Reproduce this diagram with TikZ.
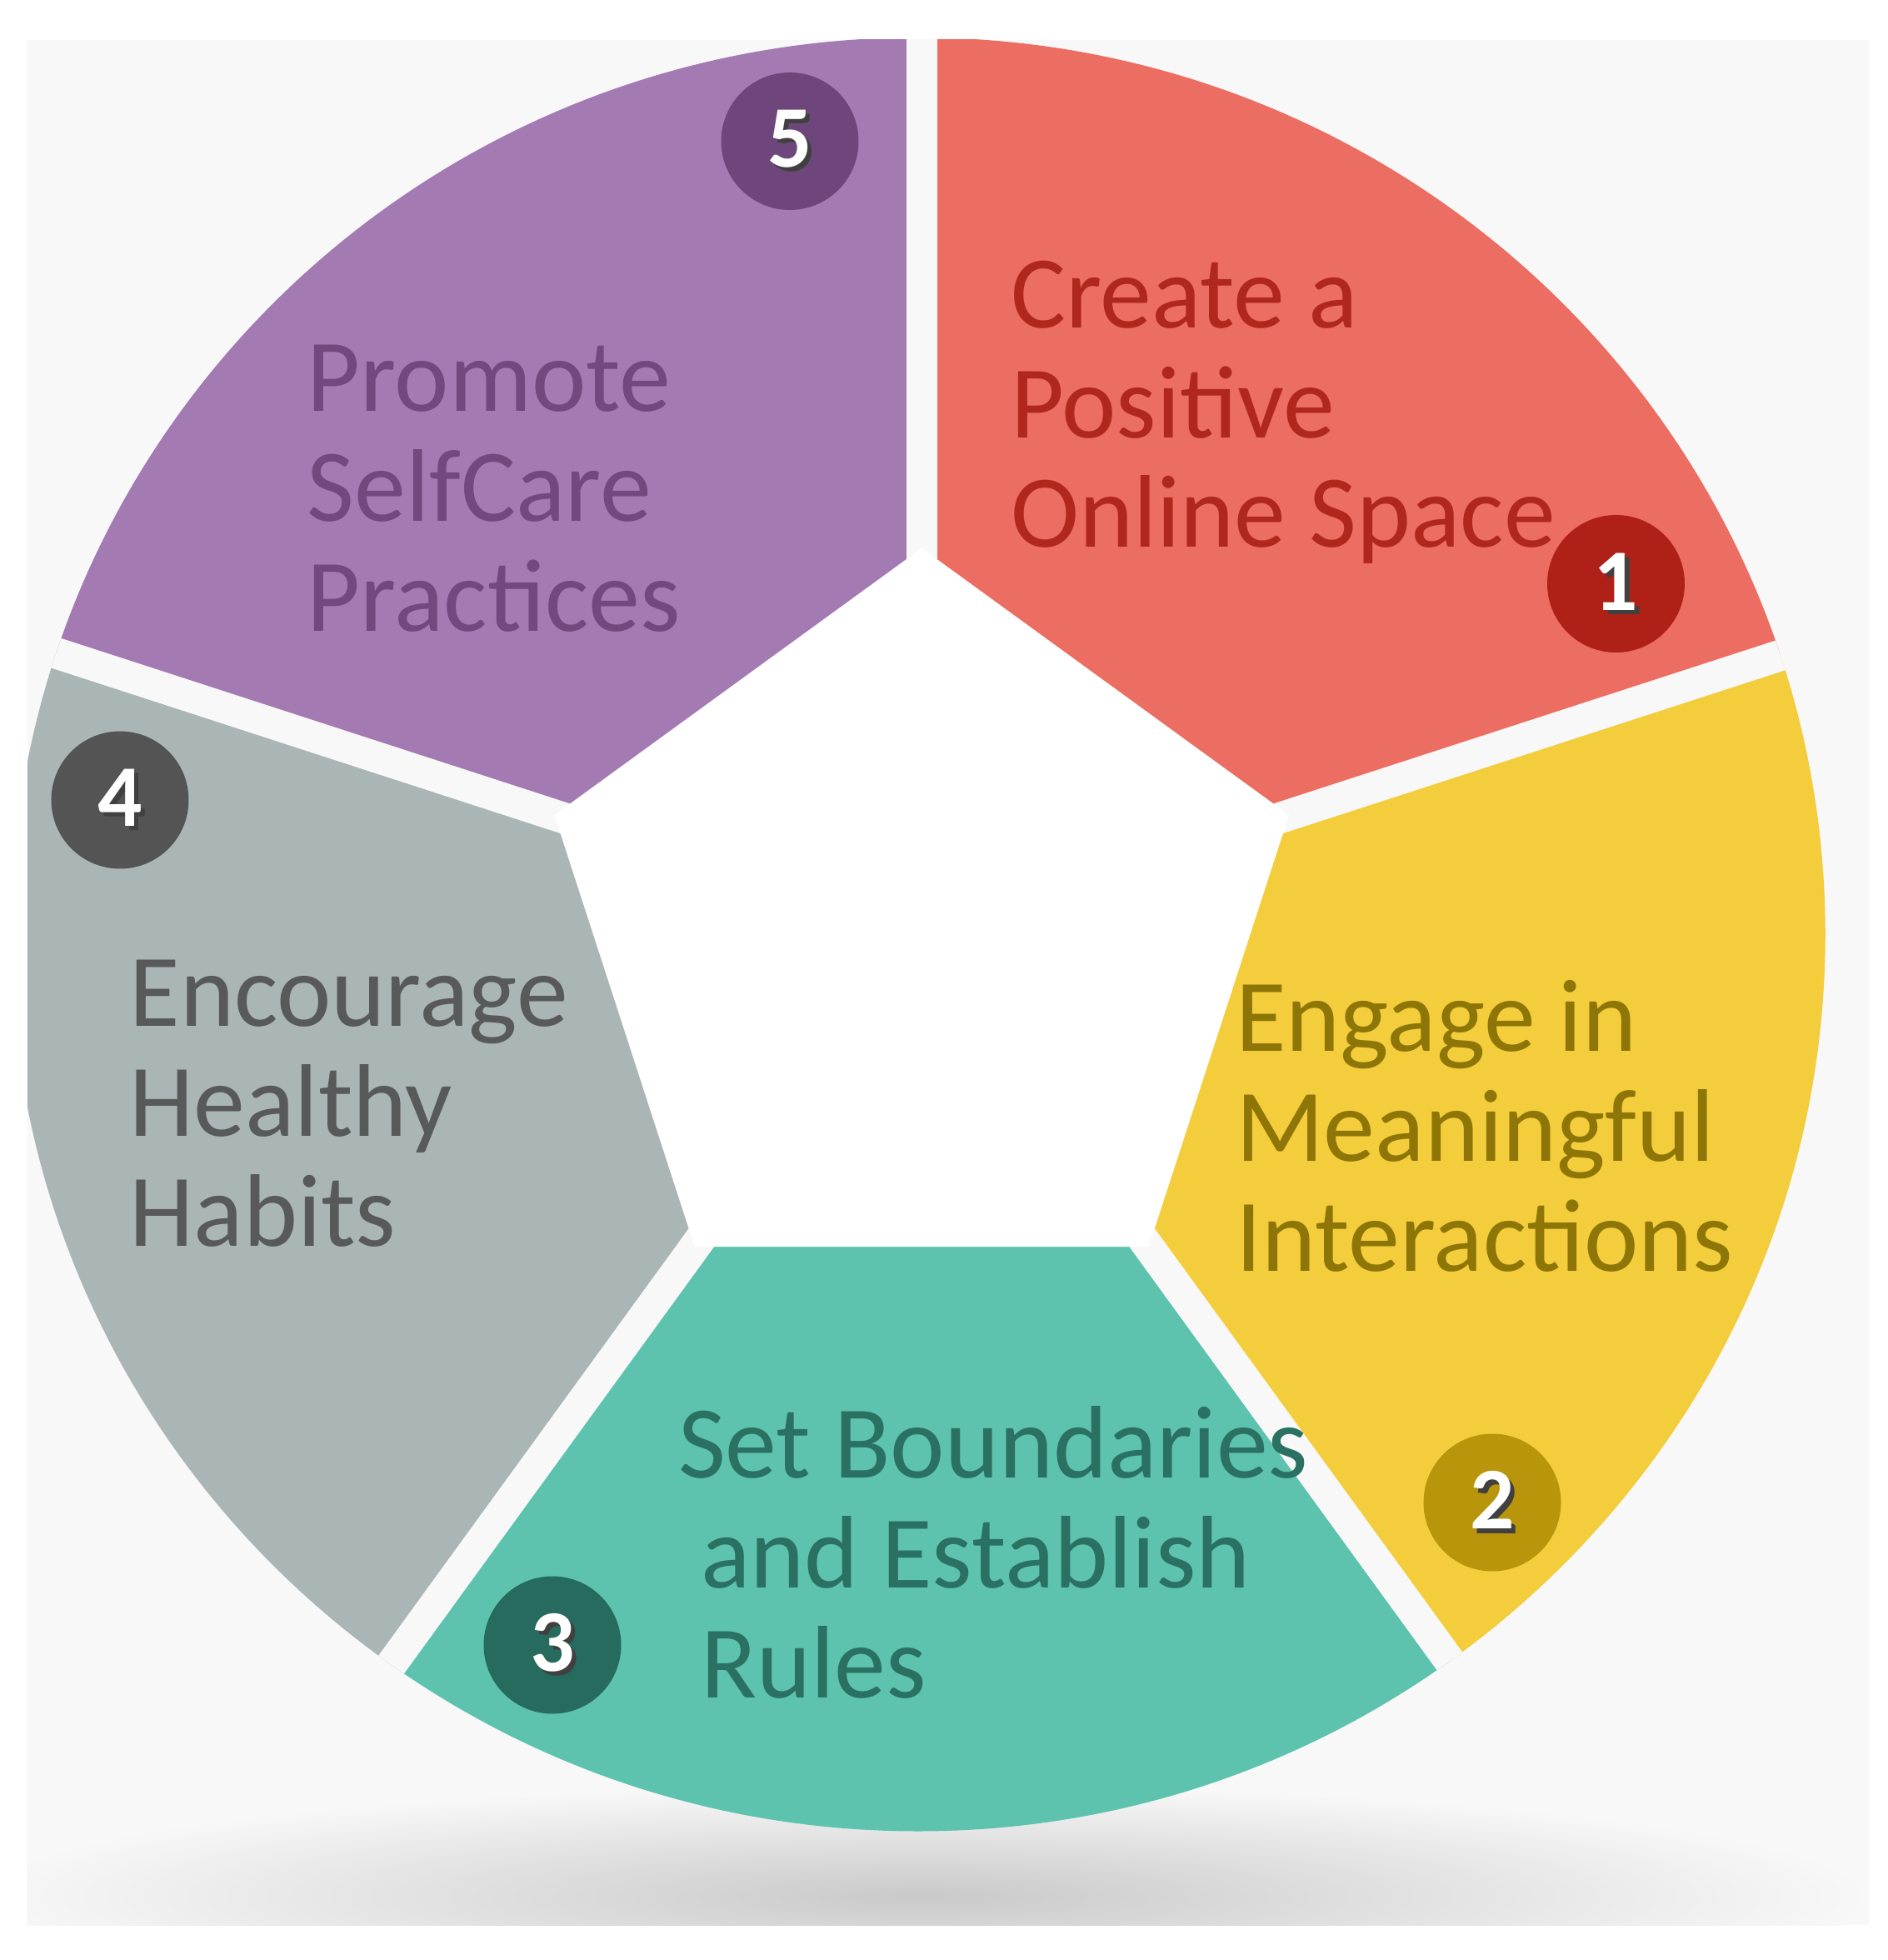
\documentclass[tikz,border=0pt]{standalone}
\usepackage{fontspec}
\setmainfont{Carlito}
\usepackage{tikz}
\usetikzlibrary{positioning}
\usetikzlibrary{calc}

\definecolor{bgc}{HTML}{F8F8F8}
\definecolor{redseg}{HTML}{EC6D62}
\definecolor{redtxt}{HTML}{B0281D}
\definecolor{reddisc}{HTML}{AF2117}
\definecolor{yelseg}{HTML}{F3CD3B}
\definecolor{yeltxt}{HTML}{8E7507}
\definecolor{yeldisc}{HTML}{B8950A}
\definecolor{tealseg}{HTML}{5DC3AE}
\definecolor{tealtxt}{HTML}{2B7163}
\definecolor{tealdisc}{HTML}{266B5D}
\definecolor{grayseg}{HTML}{AAB5B6}
\definecolor{graytxt}{HTML}{58595B}
\definecolor{graydisc}{HTML}{545454}
\definecolor{purpseg}{HTML}{A37AB2}
\definecolor{purptxt}{HTML}{71497F}
\definecolor{purpdisc}{HTML}{6E467C}

% one coloured piece of the ring, between two corner directions
\newcommand{\wheelpart}[3]{%
  \begin{scope}
    \clip (0,0) -- (#2:12) -- ({(#2+#3)/2}:12) -- (#3:12) -- cycle;
    \fill[#1] (-0.03,0) ellipse (7.26 and 7.175);
  \end{scope}}
\newcommand{\numtag}[1]{\makebox[0pt][l]{\hspace{1pt}\raisebox{-1pt}{\textcolor{black!75}{#1}}}#1}

\begin{document}
\begin{tikzpicture}[
    gapline/.style={line width=0.25cm, draw=bgc},
    disc/.style={circle, minimum size=1.1cm, inner sep=0pt, text=white, font=\fontsize{20}{20}\selectfont\bfseries},
    steptxt/.style={align=left, inner sep=0pt, anchor=base west, font=\fontsize{23.5}{25}\selectfont}
  ]
    \useasboundingbox (-7.375,7.475) rectangle (7.725,-8.205);
    \fill[white] (-7.375,7.475) rectangle (7.725,-8.205);
    \fill[bgc] (-7.155,7.155) rectangle (7.575,-7.925);

    \begin{scope}
        \clip (-7.155,7.155) rectangle (7.575,-7.925);
        \shade[inner color=black!21, outer color=bgc] (0,-7.7) ellipse (7.6 and 0.9);

        \wheelpart{redseg}{90}{18}
        \wheelpart{yelseg}{18}{-54}
        \wheelpart{tealseg}{-54}{-126}
        \wheelpart{grayseg}{-126}{-198}
        \wheelpart{purpseg}{162}{90}

        \clip (-0.03,0) ellipse (7.26 and 7.175);
        \foreach \a in {90,18,-54,-126,162}
            \draw[gapline] (\a:2.5) -- (\a:8);
    \end{scope}

    \fill[white] (90:3.09) -- (18:3.09) -- (-54:3.09) -- (-126:3.09) -- (162:3.09) -- cycle;

    % anchor base = baseline of the last line
    \node[steptxt, text=redtxt] (t1) at (0.705,3.095) {Create a\\Positive\\Online Space};
    \node[steptxt, text=yeltxt] (t2) at (2.505,-2.695) {Engage in\\Meaningful\\Interactions};
    \node[steptxt, text=tealtxt] (t3) at (-1.955,-6.105) {Set Boundaries\\\hspace{0.18cm}and Establish\\\hspace{0.18cm}Rules};
    \node[steptxt, text=graytxt] (t4) at (-6.345,-2.495) {Encourage\\Healthy\\Habits};
    \node[steptxt, text=purptxt] (t5) at (-4.925,2.425) {Promote\\SelfCare\\Practices};

    \node[disc, fill=reddisc] (n1) at (5.555,2.805) {\numtag{1}};
    \node[disc, fill=yeldisc] (n2) at (4.565,-4.545) {\numtag{2}};
    \node[disc, fill=tealdisc] (n3) at (-2.955,-5.685) {\numtag{3}};
    \node[disc, fill=graydisc] (n4) at (-6.415,1.075) {\numtag{4}};
    \node[disc, fill=purpdisc] (n5) at (-1.055,6.345) {\numtag{5}};
\end{tikzpicture}
\end{document}
